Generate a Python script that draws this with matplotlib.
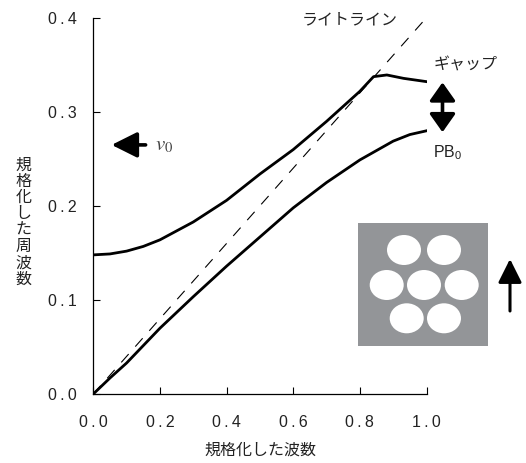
import numpy as np
import matplotlib
matplotlib.use("Agg")
import matplotlib.pyplot as plt
from matplotlib.patches import Ellipse, Rectangle, FancyArrowPatch
from matplotlib.ticker import FuncFormatter

# band data (normalized wavenumber, normalized frequency)
upper_x = [0.0, 0.05, 0.1, 0.15, 0.2, 0.3, 0.4, 0.5, 0.6, 0.7, 0.8, 0.841, 0.881, 0.931, 1.0]
upper_y = [0.148, 0.149, 0.152, 0.157, 0.164, 0.183, 0.206, 0.234, 0.260, 0.290, 0.322, 0.3376, 0.3394, 0.3358, 0.3323]
lower_x = [0.0, 0.05, 0.1, 0.2, 0.3, 0.4, 0.5, 0.6, 0.7, 0.8, 0.9, 0.95, 1.0]
lower_y = [0.0, 0.017, 0.033, 0.070, 0.1035, 0.136, 0.167, 0.198, 0.225, 0.249, 0.269, 0.276, 0.280]
light_x = [0.0, 0.994]
light_y = [0.0, 0.398]

x_ticks = [0.0, 0.2, 0.4, 0.6, 0.8, 1.0]
y_ticks = [0.0, 0.1, 0.2, 0.3, 0.4]

# hole layout of the inset (inset pixel units)
hole_x = [46, 86, 28.7, 66, 103.7, 48.7, 86]
hole_y = [27, 27, 62, 62, 62, 95.3, 95.3]

jp = ["Noto Sans CJK JP", "DejaVu Sans"]
num = ["Liberation Sans", "DejaVu Sans"]

fig = plt.figure(figsize=(5.26, 4.63), dpi=100)
ax = fig.add_axes([93.3 / 526, 1 - 394 / 463, 333.2 / 526, 376 / 463])

ax.plot(upper_x, upper_y, color="k", lw=2.0, solid_joinstyle="round", zorder=3)
ax.plot(lower_x, lower_y, color="k", lw=2.0, solid_joinstyle="round", zorder=3)
ax.plot(light_x, light_y, color="k", lw=0.8, dashes=(10, 9), zorder=2)

ax.set_xlim(0, 1.0)
ax.set_ylim(0, 0.4)
ax.set_xticks(x_ticks)
ax.set_yticks(y_ticks)
fmt = FuncFormatter(lambda v, _: "\u2009".join(f"{v:.1f}"))
ax.xaxis.set_major_formatter(fmt)
ax.yaxis.set_major_formatter(fmt)
ax.tick_params(direction="in", length=5, width=0.8, labelsize=11.5)
ax.tick_params(axis="x", pad=15)
ax.tick_params(axis="y", pad=12)
for lab in ax.get_xticklabels() + ax.get_yticklabels():
    lab.set_family(num)
    lab.set_color("#222222")
for s in ["top", "right"]:
    ax.spines[s].set_visible(False)
for s in ["left", "bottom"]:
    ax.spines[s].set_linewidth(0.9)

# axis labels
fig.text(260 / 526, 1 - 450 / 463, "規格化した波数", family=jp, fontsize=11.5,
         ha="center", va="center", color="#222222")
fig.text(23.5 / 526, 1 - 222 / 463, "\n".join("規格化した周波数"), family=jp,
         fontsize=11.5, ha="center", va="center", linespacing=0.95, color="#222222")

# annotations
ax.text(0.627, 0.398, "ライトライン", family=jp, fontsize=11.5, va="center", ha="left",
        color="#222222")
ax.text(1.02, 0.35, "ギャップ", family=jp, fontsize=11.5, va="center", ha="left",
        color="#222222", clip_on=False)
ax.text(1.02, 0.257, r"PB$_{\mathregular{0}}$", family=num, fontsize=11.5, va="center",
        ha="left", color="#222222", clip_on=False)
ax.text(0.186, 0.265, r"$v_0$", fontsize=15, va="center", ha="left", color="#444444",
        math_fontfamily="stix")

ax.annotate("", xy=(0.055, 0.265), xytext=(0.157, 0.265),
            arrowprops=dict(arrowstyle="-|>,head_length=1.2,head_width=0.6", lw=2.6,
                            color="k", shrinkA=0, shrinkB=0, mutation_scale=13))
ax.annotate("", xy=(1.048, 0.3315), xytext=(1.048, 0.2785), annotation_clip=False,
            arrowprops=dict(arrowstyle="<|-|>,head_length=0.85,head_width=0.6", lw=2.6,
                            color="k", shrinkA=0, shrinkB=0, mutation_scale=13))

# inset: photonic crystal cross section
ins = fig.add_axes([358 / 526, 1 - 346 / 463, 130 / 526, 123 / 463])
ins.set_xlim(0, 130)
ins.set_ylim(123, 0)
ins.axis("off")
ins.add_patch(Rectangle((0, 0), 130, 123, color="#939598", lw=0))
for hx, hy in zip(hole_x, hole_y):
    ins.add_patch(Ellipse((hx, hy), 34, 30, color="white", lw=0))

fig.add_artist(FancyArrowPatch(
    (510 / 526, 1 - 311 / 463), (510 / 526, 1 - 259 / 463), transform=fig.transFigure,
    arrowstyle="-|>,head_length=1.2,head_width=0.6", lw=2.2, color="k",
    mutation_scale=12, shrinkA=0, shrinkB=0))

fig.savefig("out.png", dpi=100)
